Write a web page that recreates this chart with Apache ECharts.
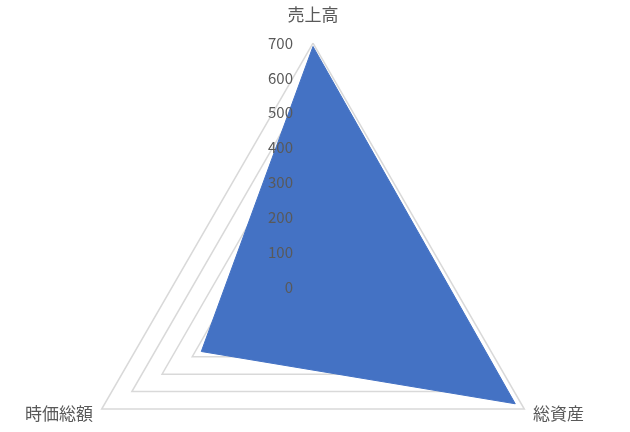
<!DOCTYPE html>
<html>
<head>
<meta charset="utf-8">
<script src="https://cdn.jsdelivr.net/npm/echarts@6/dist/echarts.min.js"></script>
<style>
html,body{margin:0;padding:0;background:#fff;}
#chart{width:630px;height:432px;}
</style>
</head>
<body>
<div id="chart"></div>
<script>
// Indicators in ECharts order (counterclockwise from top)
var categories = ['売上高', '時価総額', '総資産'];
var values = [690, 370, 670];
var axisMax = 700;
var tickStep = 100;

var FONT = '"Noto Sans CJK JP", "Noto Sans", sans-serif';
var chart = echarts.init(document.getElementById('chart'));

var baseRadar = {
  center: [313, 287],
  radius: 244,
  startAngle: 90,
  shape: 'polygon',
  splitNumber: axisMax / tickStep,
  axisLine: {show: false},
  axisTick: {show: false},
  splitArea: {show: false}
};

var indicatorsGrid = categories.map(function (c) { return {name: c, min: 0, max: axisMax}; });
var indicatorsLabel = categories.map(function (c, i) {
  var o = {name: c, min: 0, max: axisMax};
  if (i !== 0) o.axisLabel = {show: false};
  return o;
});

chart.setOption({
  backgroundColor: '#fff',
  animation: false,
  radar: [
    Object.assign({}, baseRadar, {
      z: 0,
      indicator: indicatorsGrid,
      axisName: {
        color: '#595959', fontSize: 17, fontFamily: FONT,
        formatter: function (name) {
          return name === categories[0] ? '{t|' + name + '}' : name;
        },
        rich: {t: {color: '#595959', fontSize: 17, fontFamily: FONT, padding: [0, 0, 10, 0]}}
      },
      nameGap: 10,
      axisLabel: {show: false},
      splitLine: {lineStyle: {color: '#D9D9D9', width: 1.5}}
    }),
    Object.assign({}, baseRadar, {
      z: 10,
      indicator: indicatorsLabel,
      axisName: {show: false},
      splitLine: {show: false},
      axisLabel: {show: true, color: '#595959', fontSize: 15, fontFamily: FONT, margin: 20}
    })
  ],
  series: [{
    type: 'radar',
    radarIndex: 0,
    symbol: 'none',
    lineStyle: {color: '#4472C4', width: 1},
    areaStyle: {color: '#4472C4', opacity: 1},
    data: [{value: values}]
  }]
});
</script>
</body>
</html>
